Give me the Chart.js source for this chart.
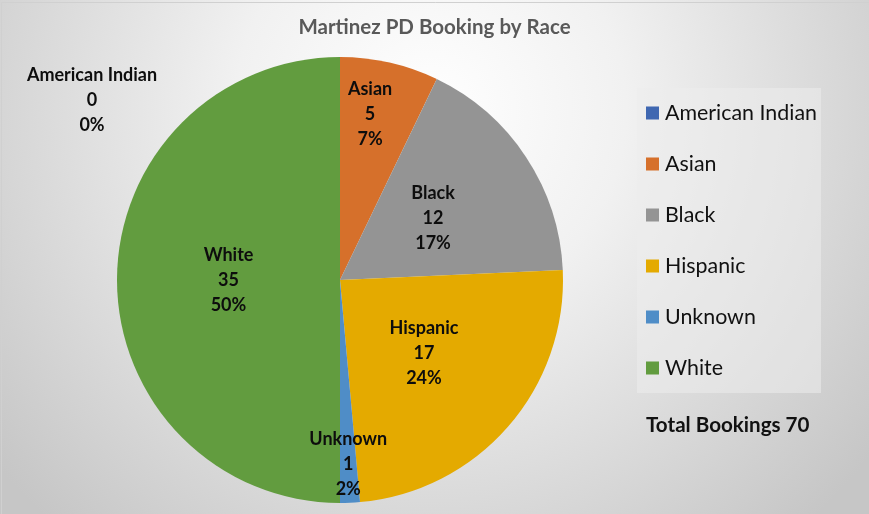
<!DOCTYPE html>
<html><head><meta charset="utf-8">
<script src="https://cdn.jsdelivr.net/npm/chart.js@4.4.1/dist/chart.umd.min.js"></script>
<style>html,body{margin:0;padding:0;background:#fff;}canvas{display:block;}</style>
</head><body>
<canvas id="c" width="869" height="514"></canvas>
<script>
// ---- data ----
const chartTitle = 'Martinez PD Booking by Race';
const categories = ['American Indian', 'Asian', 'Black', 'Hispanic', 'Unknown', 'White'];
const bookings = [0, 5, 12, 17, 1, 35];
const percentLabels = ['0%', '7%', '17%', '24%', '2%', '50%'];
const totalCaption = 'Total Bookings';

// ---- styles ----
const sliceColors = ['#3F67B1', '#D6702B', '#949494', '#E4AA00', '#4F8DC7', '#629C3F'];
const labelRadius = [0, 0.755, 0.5, 0.5, 0.825, 0.5];
const labelAngleFrac = [0.5, 0.4, 0.5, 0.5, 0.5, 0.5];
const FONT = 'Lato, Carlito, "Open Sans", sans-serif';

const backgroundPlugin = {
  id: 'bg',
  beforeDraw(chart) {
    const ctx = chart.ctx, w = chart.width, h = chart.height;
    ctx.save();
    const g = ctx.createRadialGradient(430, 110, 0, 430, 110, 560);
    g.addColorStop(0, '#ffffff');
    g.addColorStop(0.35, '#f1f1f1');
    g.addColorStop(1, '#c6c6c6');
    ctx.fillStyle = g;
    ctx.fillRect(0, 0, w, h);
    ctx.strokeStyle = '#d0d0d0';
    ctx.lineWidth = 1;
    ctx.beginPath();
    ctx.moveTo(1.5, h); ctx.lineTo(1.5, 2.5); ctx.lineTo(w, 2.5);
    ctx.stroke();
    ctx.restore();
  }
};

const sliceLabelPlugin = {
  id: 'sliceLabels',
  afterDatasetsDraw(chart) {
    const ctx = chart.ctx;
    const meta = chart.getDatasetMeta(0);
    const ds = chart.data.datasets[0];
    ctx.save();
    ctx.font = 'bold 18px ' + FONT;
    ctx.fillStyle = '#0d0d0d';
    ctx.textAlign = 'center';
    ctx.textBaseline = 'middle';
    meta.data.forEach((arc, i) => {
      const p = arc.getProps(['x', 'y', 'startAngle', 'endAngle', 'outerRadius'], true);
      const ang = p.startAngle + (p.endAngle - p.startAngle) * labelAngleFrac[i];
      let cx, cy;
      if (ds.data[i] === 0) {
        cx = p.x - 1.112 * p.outerRadius;
        cy = p.y - 0.807 * p.outerRadius;
      } else {
        const r = labelRadius[i] * p.outerRadius;
        cx = p.x + Math.cos(ang) * r;
        cy = p.y + Math.sin(ang) * r;
      }
      const lines = [chart.data.labels[i], String(ds.data[i]), percentLabels[i]];
      lines.forEach((t, k) => ctx.fillText(t, cx, cy + (k - 1) * 25));
    });
    ctx.restore();
  }
};

const legendPlugin = {
  id: 'sideLegend',
  afterDraw(chart) {
    const ctx = chart.ctx;
    const ds = chart.data.datasets[0];
    const left = chart.width - 232;
    const top = 88;
    ctx.save();
    ctx.fillStyle = 'rgba(236,236,236,0.55)';
    ctx.fillRect(left, top, 184, 305);
    ctx.textBaseline = 'middle';
    ctx.textAlign = 'left';
    ctx.font = '21.4px ' + FONT;
    chart.data.labels.forEach((lab, i) => {
      const cy = 113 + i * 51;
      ctx.fillStyle = ds.backgroundColor[i];
      ctx.fillRect(left + 9, cy - 6.5, 13, 13);
      ctx.fillStyle = '#111111';
      ctx.fillText(lab, left + 28, cy);
    });
    const total = ds.data.reduce((a, b) => a + b, 0);
    ctx.font = 'bold 20.6px ' + FONT;
    ctx.fillText(totalCaption + ' ' + total, left + 9, 425);
    ctx.restore();
  }
};

function build() {
  new Chart(document.getElementById('c'), {
    type: 'pie',
    data: {
      labels: categories,
      datasets: [{
        data: bookings,
        backgroundColor: sliceColors,
        borderWidth: 0
      }]
    },
    options: {
      responsive: false,
      devicePixelRatio: 1,
      animation: false,
      layout: { padding: { left: 0, right: 0, top: 0, bottom: 11 } },
      plugins: {
        title: {
          display: true,
          text: chartTitle,
          color: '#595959',
          font: { family: FONT, size: 20.5, weight: 'bold' },
          padding: { top: 15.5, bottom: 16.9 }
        },
        subtitle: {
          display: true,
          position: 'right',
          text: '',
          font: { size: 10 },
          padding: { top: 0, bottom: 177 }
        },
        legend: { display: false },
        tooltip: { enabled: false }
      }
    },
    plugins: [backgroundPlugin, sliceLabelPlugin, legendPlugin]
  });
}

Promise.all([
  document.fonts.load('bold 16px Lato'),
  document.fonts.load('20px Lato')
]).then(build, build);
</script>
</body></html>
